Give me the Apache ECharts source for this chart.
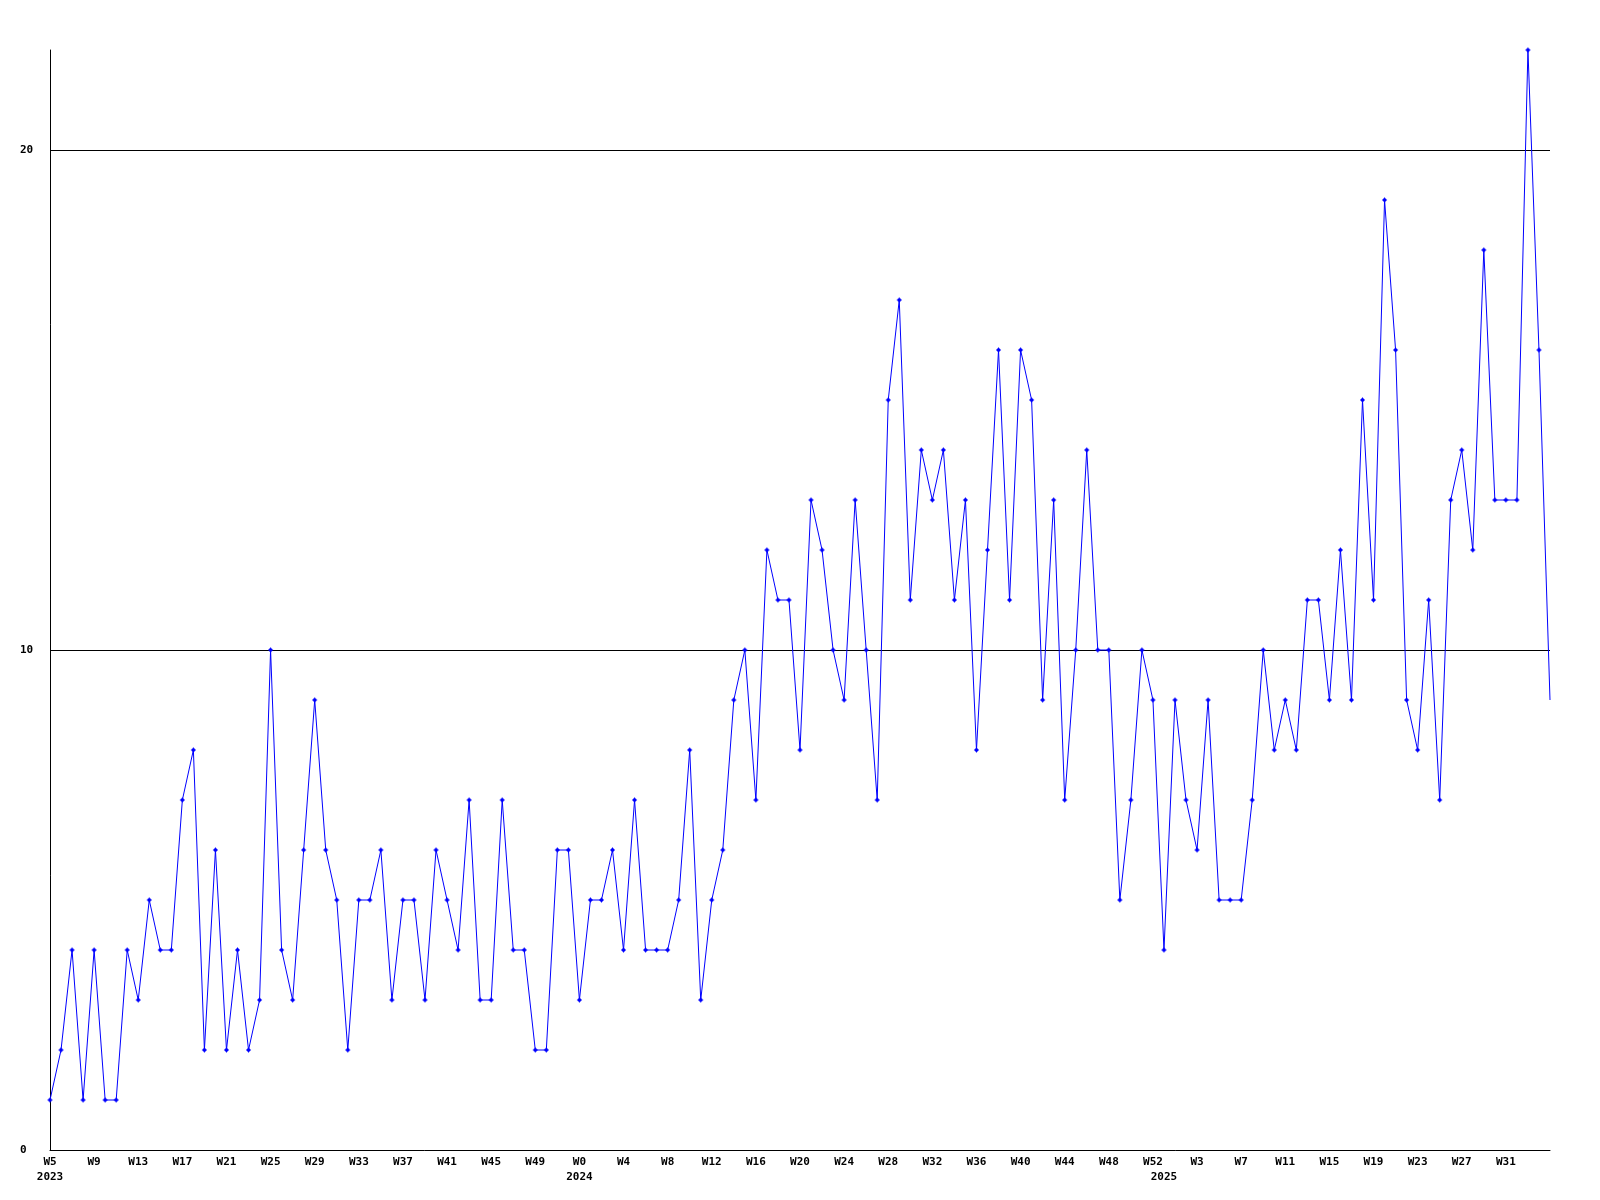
<!DOCTYPE html>
<html>
<head>
<meta charset="utf-8">
<script src="https://cdn.jsdelivr.net/npm/echarts@6/dist/echarts.min.js"></script>
<style>
html,body{margin:0;padding:0;background:#fff;}
#chart{width:1600px;height:1200px;}
</style>
</head>
<body>
<div id="chart"></div>
<script>
// Weekly counts, by year
const years = [2023, 2024, 2025];
const firstWeek = [5, 0, 0];
const values2023 = [1,2,4,1,4,1,1,4,3,5, 4,4,7,8,2,6,2,4,2,3, 10,4,3,6,9,6,5,2,5,5, 6,3,5,5,3,6,5,4,7,3, 3,7,4,4,2,2,6,6];
const values2024 = [3,5,5,6,4,7,4,4,4,5, 8,3,5,6,9,10,7,12,11,11, 8,13,12,10,9,13,10,7,15,17, 11,14,13,14,11,13,8,12,16,11, 16,15,9,13,7,10,14,10,10,5, 7,10,9];
const values2025 = [4,9,7,6,9,5,5,5,7,10, 8,9,8,11,11,9,12,9,15,11, 19,16,9,8,11,7,13,14,12,18, 13,13,13,22,16,9];
// Week numbers that carry a tick label
const labelWeeks2023 = [5,9,13,17,21,25,29,33,37,41,45,49];
const labelWeeks2024 = [0,4,8,12,16,20,24,28,32,36,40,44,48,52];
const labelWeeks2025 = [3,7,11,15,19,23,27,31];
const yTicks = [0, 10, 20];

const valueSets = [values2023, values2024, values2025];
const labelSets = [labelWeeks2023, labelWeeks2024, labelWeeks2025];

const categories = [];
const values = [];
const labelText = {};
valueSets.forEach((arr, yi) => {
  arr.forEach((v, k) => {
    const w = firstWeek[yi] + k;
    const idx = categories.length;
    categories.push(years[yi] + '-W' + w);
    values.push(v);
    const isFirst = k === 0;
    const hasWeek = labelSets[yi].indexOf(w) >= 0;
    if (hasWeek || isFirst) {
      labelText[idx] = (hasWeek ? 'W' + w : '') + (isFirst ? '\n' + years[yi] : '');
    }
  });
});

const plus = 'path://M2,0H3V1H4V2H5V3H4V4H3V5H2V4H1V3H0V2H1V1H2Z';
const seriesData = values.map((v, i) => i === values.length - 1 ? {value: v, symbol: 'none'} : v);

const font = {fontFamily: 'DejaVu Sans Mono', fontWeight: 'bold', fontSize: 11, color: '#000'};

const chart = echarts.init(document.getElementById('chart'), null, {renderer: 'canvas'});
chart.setOption({
  backgroundColor: '#fff',
  animation: false,
  grid: {left: 50, right: 50, top: 50, bottom: 50, containLabel: false},
  xAxis: {
    type: 'category',
    data: categories,
    boundaryGap: false,
    axisLine: {lineStyle: {color: '#000', width: 1}},
    axisTick: {show: false},
    axisLabel: Object.assign({}, font, {
      interval: (i) => labelText[i] !== undefined,
      formatter: (val, i) => labelText[i] || '',
      margin: 5,
      lineHeight: 15,
      hideOverlap: false
    }),
    splitLine: {show: false}
  },
  yAxis: {
    type: 'value',
    min: 0,
    max: 22,
    interval: 10,
    axisLine: {show: true, lineStyle: {color: '#000', width: 1}},
    axisTick: {show: false},
    axisLabel: Object.assign({}, font, {
      align: 'left',
      margin: 30,
      showMaxLabel: false,
      formatter: (v) => yTicks.indexOf(v) >= 0 ? String(v) : ''
    }),
    splitLine: {show: true, showMinLine: false, showMaxLine: false, lineStyle: {color: '#000', width: 1}}
  },
  series: [{
    type: 'line',
    data: seriesData,
    symbol: plus,
    symbolSize: 5,
    showAllSymbol: true,
    lineStyle: {color: '#0000ff', width: 1},
    itemStyle: {color: '#0000ff'},
    emphasis: {disabled: true}
  }]
});
</script>
</body>
</html>
